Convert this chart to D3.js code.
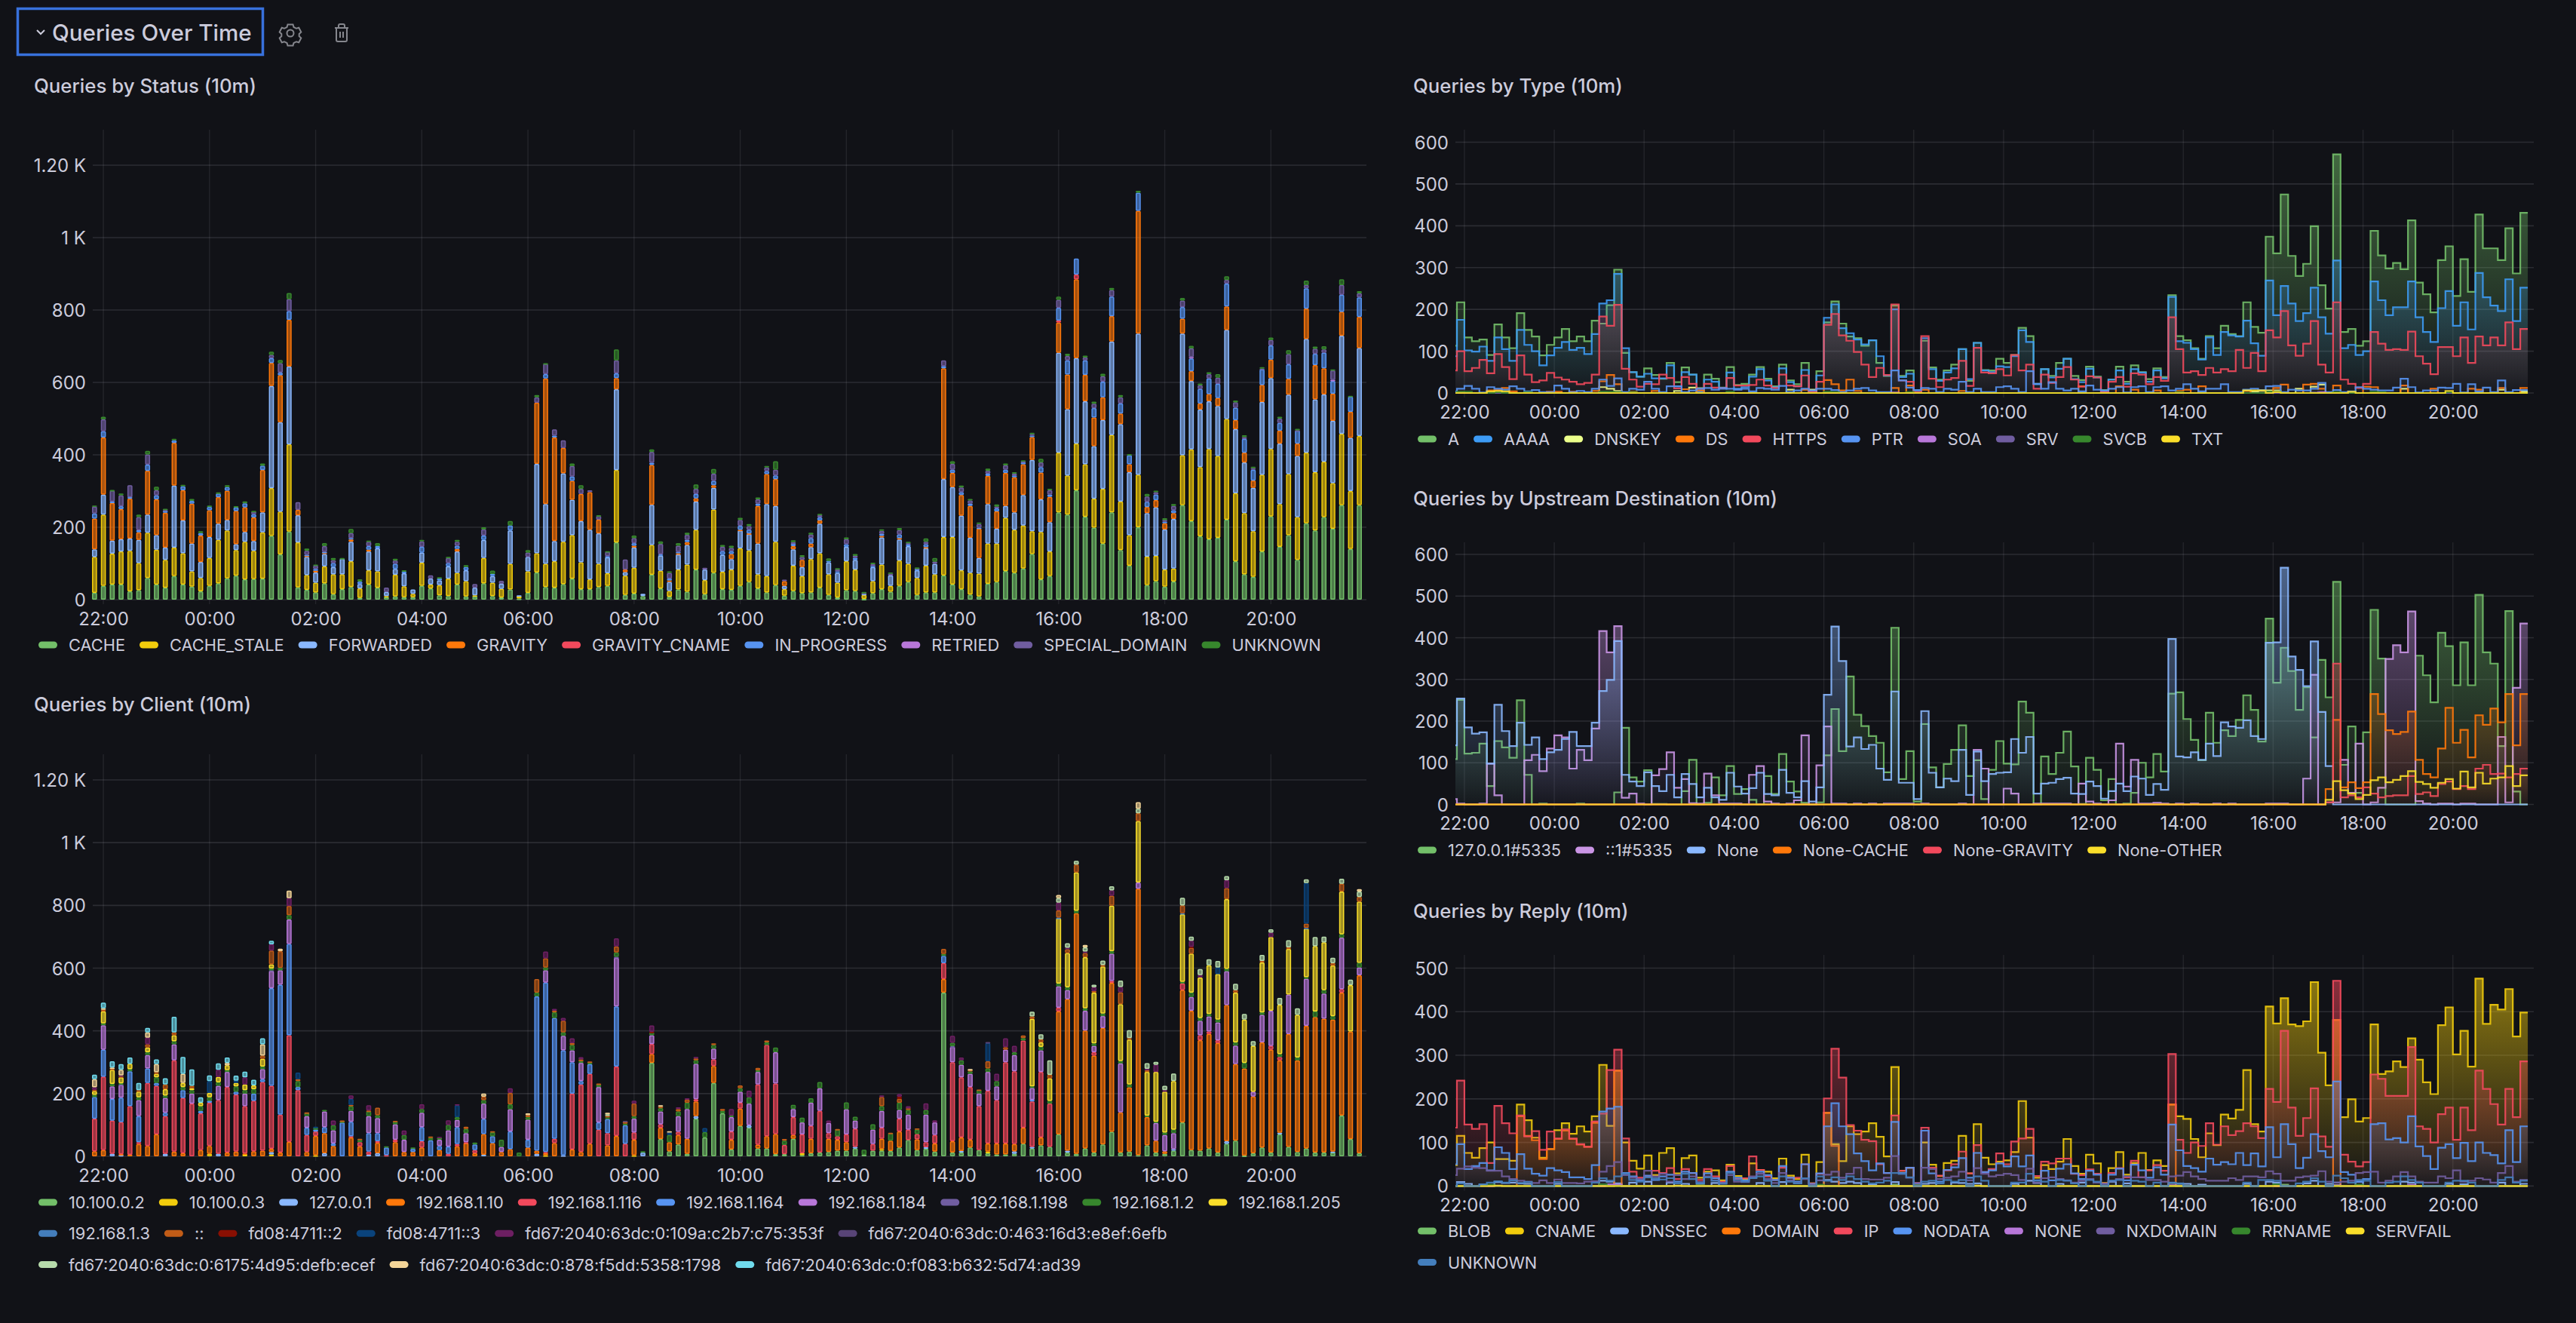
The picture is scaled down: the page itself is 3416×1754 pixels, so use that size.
<!DOCTYPE html>
<html>
<head>
<meta charset="utf-8">
<script src="https://cdn.jsdelivr.net/npm/d3@7"></script>
<style>
  html, body { margin: 0; background: #111217; }
  svg { display: block; }
  text { font-family: Inter, "Noto Sans", sans-serif; fill: #ccccdc; }
</style>
</head>
<body>
<svg id="board" width="3416" height="1754"></svg>
<script>
// each array below has one value per 10 minute slot, first slot is 21:50
function sparse(pairs) {
  var out = new Array(144).fill(0);
  pairs.forEach(function(p) { out[p[0]] = p[1]; });
  return out;
}

// Queries by Status
var s_cache = [19,38,42,42,23,26,60,42,33,65,42,36,
  23,38,45,59,66,56,57,58,176,125,188,34,
  27,20,45,15,29,35,5,42,33,7,9,7,
  7,38,31,12,10,42,9,9,45,10,6,28,
  3,19,75,35,33,43,58,29,29,35,38,158,
  13,17,10,69,31,8,28,22,83,15,74,29,
  27,38,49,31,20,40,11,24,18,20,33,13,
  6,26,24,2,18,29,22,38,49,13,20,20,
  67,42,29,14,9,44,49,79,74,86,126,56,
  65,241,235,302,229,199,155,241,137,94,200,40,
  51,36,50,261,217,175,167,171,221,106,70,63,
  133,230,146,178,110,211,191,228,196,261,140,261];
var s_stale = [99,197,85,91,112,75,125,96,77,79,86,42,
  37,77,120,132,71,104,78,128,132,118,241,124,
  41,27,47,55,41,71,26,39,45,3,60,30,
  9,64,11,28,48,32,42,3,70,37,24,71,
  6,59,53,64,73,117,120,74,27,64,35,200,
  53,71,0,82,49,16,55,75,110,39,175,48,
  56,104,87,39,45,120,18,70,47,92,95,57,
  41,80,59,11,33,68,16,70,50,47,74,50,
  106,131,52,60,63,111,106,147,119,119,63,131,
  68,165,108,129,145,80,151,214,134,84,145,79,
  70,47,36,138,198,191,249,226,278,188,169,126,
  212,186,118,169,118,195,161,153,126,197,160,191];
var s_forwarded = [21,55,36,34,34,64,50,40,34,171,91,77,
  44,58,45,29,16,27,27,55,282,247,215,75,
  50,28,34,20,43,54,12,52,64,11,16,36,
  12,28,16,13,34,59,30,21,50,18,14,92,
  3,40,247,165,56,189,98,114,137,84,44,223,
  10,56,6,111,42,25,42,54,78,29,60,47,
  29,49,45,85,199,99,9,45,25,33,82,33,
  27,40,27,3,39,75,29,58,49,21,48,29,
  160,138,151,97,43,109,41,33,48,84,197,90,
  81,276,183,236,174,145,190,258,214,174,390,120,
  134,111,137,336,189,159,132,138,246,177,140,120,
  201,196,167,219,169,314,201,186,172,271,147,243];
var s_gravity = [85,158,104,83,110,21,121,99,96,118,83,110,
  73,74,73,81,92,68,65,117,64,130,129,15,
  4,5,4,0,0,6,0,5,0,0,0,0,
  0,0,0,0,0,7,0,0,0,0,0,0,
  0,0,169,347,286,70,52,75,104,38,0,31,
  7,5,0,110,0,4,3,8,9,0,7,0,
  14,2,2,104,83,74,13,9,20,10,9,0,
  0,0,0,0,0,4,0,4,0,0,3,0,
  306,39,57,88,81,78,48,91,97,85,63,74,
  70,83,96,218,73,79,63,70,29,22,339,17,
  20,17,16,41,27,17,20,22,65,25,27,20,
  47,51,36,44,34,84,95,72,75,66,72,86];
var s_gcname = sparse([[109,6],[111,13]]);
var s_inprogress = [14,17,4,8,4,6,17,11,5,7,11,8,
  7,9,10,10,10,11,9,12,13,7,24,0,
  2,5,2,11,0,4,7,10,6,0,14,4,
  0,16,0,5,9,9,9,0,12,6,0,14,
  0,0,0,12,5,0,12,0,0,0,3,13,
  0,7,0,6,3,5,4,6,12,0,12,10,
  8,11,10,6,8,10,0,6,0,15,8,4,
  4,7,5,0,3,6,0,10,4,3,8,0,
  6,9,8,6,3,6,8,9,5,5,4,15,
  6,35,39,44,40,26,43,54,28,25,50,14,
  15,4,8,32,35,40,43,39,63,34,38,30,
  43,39,21,40,36,56,31,43,35,47,42,54];
var s_retried = sparse([[124,4],[140,3]]);
var s_special = [19,33,30,30,33,36,28,14,3,0,0,0,
  0,0,0,0,0,0,7,0,9,26,33,21,
  11,9,16,8,0,14,0,12,0,12,9,0,
  0,15,9,0,14,11,0,10,17,0,8,0,
  0,12,15,28,17,21,29,14,5,10,12,36,
  28,14,0,30,29,16,17,14,14,5,20,12,
  9,16,10,12,10,16,4,5,8,10,6,0,
  5,14,6,3,5,8,5,12,4,3,7,6,
  16,16,13,9,10,8,5,12,5,3,4,13,
  12,22,12,0,8,12,15,18,17,0,0,15,
  7,5,12,18,24,10,12,17,10,15,5,4,
  2,15,12,28,1,9,14,9,26,27,0,11];
var s_unknown = [3,7,2,5,0,7,10,10,3,4,4,5,
  5,4,3,5,3,5,2,6,9,9,17,0,
  6,3,8,6,2,11,6,3,8,0,5,4,
  0,4,0,4,3,5,5,0,6,9,0,12,
  0,7,6,2,0,0,7,10,0,2,2,30,
  0,7,0,7,7,4,7,6,12,0,13,5,
  6,6,6,5,4,23,0,5,5,5,4,7,
  4,5,5,2,4,4,3,6,4,2,9,10,
  0,7,5,4,4,6,6,5,4,3,4,10,
  4,9,6,0,5,6,7,6,6,3,5,7,
  4,5,5,7,7,5,5,10,10,5,5,4,
  4,7,5,11,4,12,6,9,3,16,2,6];
var statusNames = ["CACHE","CACHE_STALE","FORWARDED","GRAVITY","GRAVITY_CNAME","IN_PROGRESS","RETRIED","SPECIAL_DOMAIN","UNKNOWN"];
var statusColors = ["#73BF69","#F2CC0C","#8AB8FF","#FF780A","#F2495C","#5794F2","#B877D9","#705DA0","#37872D"];
var statusValues = [s_cache,s_stale,s_forwarded,s_gravity,s_gcname,s_inprogress,s_retried,s_special,s_unknown];

// Queries by Client
var c_a = sparse([[63,298],[64,55],[65,16],[66,38],[67,8],[68,120],[69,60],[70,234],[71,137],
  [72,22],[73,97],[74,91],[75,25],[76,25],[77,7],[78,7],[79,56],[80,4],[81,10],[82,12],[83,14],
  [84,18],[85,18],[86,25],[87,5],[88,18],[89,18],[90,17],[91,28],[92,52],[93,20],[94,24],[95,15],
  [96,522],[97,12],[98,12],[99,28],[100,20],[101,10],[102,6],[103,6],[104,8],[105,40],[106,25],[107,35],
  [108,30],[109,70],[110,12],[111,8],[112,25],[113,12],[114,38],[115,78],[116,12],[117,15],[118,4],[119,35],
  [120,12],[121,8],[122,18],[123,108],[124,20],[125,18],[126,25],[127,12],[128,40],[129,50],[130,2],[131,10],
  [132,28],[133,12],[134,70],[135,30],[136,14],[137,25],[138,12],[139,12],[140,12],[141,130],[142,55],[143,10]]);
var c_b = sparse([[13,8],[17,5],[20,6],[25,3],[51,3],[61,3],[80,6],[89,5],[101,5]]);
var c_loop = sparse([[2,8],[3,4],[8,8],[14,8],[20,8],[26,10],[31,5],[32,10],[44,5],[50,8],[53,3],[62,12],[68,8],[74,8],[86,5],[94,5],[98,5],[104,8],[106,5],[110,6],[122,5],[128,8],[134,5],[140,3]]);
var c_10 = [16,20,0,3,5,39,33,70,0,15,10,0,
  20,25,0,12,15,4,16,18,10,12,46,0,
  14,62,64,33,0,60,32,0,33,0,45,14,
  14,28,0,20,0,32,42,10,66,42,14,23,
  0,28,10,7,42,0,22,14,40,0,35,65,
  0,50,0,28,36,29,30,48,47,0,54,0,
  31,55,0,12,39,64,0,12,0,46,0,42,
  35,27,0,0,0,33,33,51,0,34,0,26,
  43,36,43,25,0,26,35,35,23,51,0,25,
  0,392,483,767,376,309,371,475,128,205,849,90,
  38,8,0,422,444,352,365,349,434,244,278,181,
  335,328,231,360,292,391,432,427,421,392,343,567];
var c_116 = [104,234,106,102,155,6,201,155,120,291,176,168,
  117,138,171,209,182,151,161,219,201,121,340,211,
  54,14,0,0,0,4,13,10,5,4,8,0,
  0,20,0,0,8,7,3,10,0,0,0,0,
  0,0,0,4,14,0,178,215,223,85,39,221,
  40,23,0,32,11,0,10,0,7,0,21,0,
  26,19,0,192,291,161,29,57,60,41,133,18,
  11,25,58,0,21,35,0,41,33,17,16,27,
  51,252,192,168,140,168,138,259,232,278,145,209,
  138,12,0,0,0,11,0,6,0,0,0,0,
  0,0,0,21,0,16,8,9,0,0,0,0,
  0,12,11,0,0,0,0,0,0,11,0,0];
var c_164 = [69,86,69,78,111,83,46,9,11,0,25,0,
  8,6,0,0,9,0,23,9,311,414,291,10,
  23,6,19,8,108,46,0,59,26,24,0,0,
  10,45,51,13,23,54,0,18,48,22,0,56,
  0,25,492,540,385,335,100,11,31,23,45,192,
  59,0,0,0,0,0,0,0,0,0,0,0,
  0,0,0,0,0,0,0,0,0,0,0,0,
  0,0,0,0,0,0,0,0,0,0,0,0,
  23,0,0,0,0,0,0,0,0,0,5,0,
  0,0,0,0,0,0,0,0,0,0,0,0,
  0,0,0,0,0,0,0,0,0,0,0,0,
  0,0,0,0,0,0,0,0,0,0,0,0];
var c_184 = [0,78,40,40,0,51,43,0,47,51,0,32,
  0,0,46,48,0,40,0,32,55,46,78,0,
  37,0,50,42,0,35,0,54,48,0,49,39,
  0,46,0,20,52,23,29,0,49,0,16,71,
  0,64,0,39,0,46,38,58,0,113,0,155,
  0,44,0,28,41,0,50,95,113,0,34,0,
  46,35,69,40,0,100,0,26,38,74,72,32,
  0,80,26,0,46,54,0,28,48,0,88,40,
  0,49,40,42,40,60,44,40,52,0,38,69,
  0,68,29,0,63,20,38,87,156,0,20,0,
  56,52,51,0,44,46,48,57,108,59,0,15,
  88,112,0,126,0,150,0,80,0,164,0,25];
var c_198 = sparse([[3,2],[20,2],[59,3],[97,2]]);
var c_2 = [7,6,8,4,7,9,9,18,8,10,10,11,
  15,11,11,6,17,11,14,8,6,8,14,19,
  10,6,5,16,3,15,8,15,9,4,8,15,
  4,12,8,7,17,9,13,6,11,13,23,16,
  12,8,12,9,18,11,17,5,4,8,5,14,
  5,8,4,9,11,23,15,20,11,17,12,8,
  5,11,20,5,8,15,14,13,15,14,20,0,
  21,22,12,16,17,15,24,23,15,14,15,0,
  6,11,14,8,11,11,17,0,9,8,5,11,
  9,9,9,8,8,8,8,8,8,9,0,5,
  4,8,11,5,14,9,8,9,8,10,18,0,
  8,0,9,0,9,5,18,11,11,11,0,15];
var c_205 = [12,38,44,19,17,18,15,11,20,19,13,6,
  11,14,17,15,11,18,12,25,13,0,0,0,
  0,0,0,0,0,0,0,0,0,0,0,0,
  0,0,0,0,0,0,0,0,0,0,0,0,
  0,0,0,0,0,0,0,0,0,0,0,0,
  0,0,0,0,0,0,0,0,0,0,0,0,
  0,0,0,0,0,0,0,0,0,0,0,0,
  0,0,0,0,0,0,0,0,0,0,0,0,
  0,0,0,0,0,0,0,0,0,0,215,14,
  71,208,109,122,163,162,150,145,181,143,196,139,
  159,130,155,216,124,129,155,145,222,159,138,146,
  159,235,157,145,136,155,208,152,161,136,148,195];
var c_3 = sparse([[109,2],[123,3],[137,2]]);
var c_any = [4,5,4,3,0,5,10,5,15,9,0,8,
  0,0,0,0,0,0,0,10,44,53,29,6,
  2,0,0,0,3,4,3,3,24,0,3,0,
  0,0,4,0,0,0,7,0,11,3,0,36,
  0,6,43,29,5,37,6,6,4,3,5,19,
  7,40,0,0,4,0,8,10,6,0,5,6,
  0,9,0,8,6,0,5,0,0,0,0,0,
  2,0,0,0,0,29,1,12,5,4,0,0,
  16,0,0,4,2,23,0,8,0,8,8,10,
  12,23,12,25,13,5,5,32,38,5,25,5,
  0,0,0,25,19,0,0,0,35,8,0,0,
  5,0,0,5,0,14,0,0,8,25,0,15];
var c_f2 = sparse([[91,7],[63,2],[124,3]]);
var c_f3 = sparse([[13,38],[16,7],[23,21],[25,3],[29,19],[41,38],[65,8],[69,13],[101,59],[127,21],[137,129]]);
var c_109a = sparse([[0,8],[3,3],[6,21],[14,23],[17,23],[20,20],[22,25],[27,15],[29,11],[31,17],[35,14],[37,15],[39,2],[40,15],[41,3],[47,15],[51,22],[52,6],[53,9],[54,15],[55,7],[59,26],[61,9],[63,20],[66,5],[67,4],[68,5],[72,21],[74,21],[83,8],[89,5],[91,8],[92,7],[94,21],[95,7],[97,22],[98,9],[102,23],[103,28],[104,20],[109,25],[110,5],[112,5],[113,12],[115,17],[116,17],[119,5],[120,23],[121,5],[124,19],[125,8],[128,25],[133,14]]);
var c_463 = sparse([[60,2],[101,2]]);
var c_6175 = sparse([[58,5],[106,15],[107,16],[108,46],[109,14],[110,14],[111,12],[112,13],[113,8],[114,14],[115,13],[116,20],[117,25],[118,14],[119,18],[120,9],[121,14],[122,24],[123,24],[124,13],[125,19],[126,19],[127,21],[128,13],[129,20],[130,18],[131,15],[132,19],[133,11],[134,22],[135,23],[136,21],[137,12],[138,29],[139,18],[140,17],[141,16],[142,17],[143,17]]);
var c_878 = sparse([[0,26],[1,5],[2,4],[3,18],[6,17],[7,26],[10,29],[15,8],[19,36],[21,8],[22,24],[44,10],[49,6],[58,5],[64,5],[65,4],[99,3],[109,10],[112,8],[118,21],[143,8]]);
var c_f083 = sparse([[0,14],[1,18],[2,20],[3,18],[4,20],[5,23],[6,14],[7,15],[8,20],[9,50],[10,54],[11,52],[12,17],[13,18],[14,20],[15,17],[16,16],[17,18],[18,18],[19,19],[20,11]]);
var clientNames = ["10.100.0.2","10.100.0.3","127.0.0.1","192.168.1.10","192.168.1.116","192.168.1.164","192.168.1.184","192.168.1.198","192.168.1.2","192.168.1.205","192.168.1.3","::","fd08:4711::2","fd08:4711::3","fd67:2040:63dc:0:109a:c2b7:c75:353f","fd67:2040:63dc:0:463:16d3:e8ef:6efb","fd67:2040:63dc:0:6175:4d95:defb:ecef","fd67:2040:63dc:0:878:f5dd:5358:1798","fd67:2040:63dc:0:f083:b632:5d74:ad39"];
var clientColors = ["#73BF69","#F2CC0C","#8AB8FF","#FF780A","#F2495C","#5794F2","#B877D9","#705DA0","#37872D","#FADE2A","#447EBC","#C15C17","#890F02","#0A437C","#6D1F62","#584477","#B7DBAB","#F4D598","#70DBED"];
var clientValues = [c_a,c_b,c_loop,c_10,c_116,c_164,c_184,c_198,c_2,c_205,c_3,c_any,c_f2,c_f3,c_109a,c_463,c_6175,c_878,c_f083];

// Queries by Type
var t_a = [113,217,133,124,128,91,164,133,107,191,151,135,
  90,115,133,153,124,135,124,173,166,210,295,96,
  50,39,59,43,34,72,26,61,44,12,44,34,
  13,62,19,22,44,62,34,16,68,30,21,72,
  7,52,169,219,166,135,131,113,126,72,41,209,
  41,54,1,125,61,32,54,68,105,29,120,55,
  54,82,72,91,156,136,22,57,41,72,82,41,
  31,63,39,7,32,63,27,66,50,33,59,38,
  234,136,126,107,82,136,107,161,141,136,217,158,
  144,374,334,475,328,280,309,399,258,202,571,146,
  153,113,124,388,329,298,311,296,413,264,236,193,
  318,351,232,320,242,427,346,346,318,394,286,431];
var t_aaaa = [88,175,102,99,111,77,133,105,77,151,115,100,
  66,90,108,122,103,108,93,141,214,222,285,107,
  50,39,46,35,35,66,16,50,44,4,32,27,
  10,49,10,14,39,57,30,14,59,26,16,55,
  6,42,180,212,155,143,128,116,126,88,42,200,
  38,46,6,131,57,29,49,59,105,33,120,54,
  50,64,62,88,150,122,21,57,37,58,82,33,
  26,58,37,4,32,54,22,57,49,27,54,35,
  230,124,120,105,80,133,91,146,138,135,173,119,
  89,269,186,256,214,172,191,252,181,142,317,107,
  115,91,100,267,222,186,205,205,267,181,146,122,
  203,244,161,217,152,287,229,209,196,272,172,252];
var t_dnskey = sparse([[6,3],[20,14],[21,10],[22,5],[30,5],[32,13],[45,8],[48,8],[107,4],[108,5],[109,6],[110,6],[113,10],[115,15],[116,20],[127,10],[140,8],[143,4]]);
var t_ds = sparse([[1,2],[5,6],[6,7],[7,12],[8,4],[13,3],[14,3],[16,3],[19,5],[20,28],[21,43],[22,21],[24,3],[27,5],[31,9],[33,6],[47,8],[50,31],[51,21],[52,6],[53,32],[54,5],[59,12],[61,18],[63,8],[68,5],[84,16],[89,16],[91,8],[94,6],[97,5],[98,8],[100,16],[106,5],[110,12],[111,20],[114,20],[115,22],[116,10],[118,18],[122,15],[123,14],[127,18],[131,10],[136,10],[137,8],[140,12],[143,12]]);
var t_https = [54,100,52,60,79,47,93,62,33,90,44,26,
  30,48,37,32,27,21,24,44,183,161,211,58,
  32,15,22,21,44,36,11,38,22,10,22,13,
  12,36,18,18,19,32,18,12,44,18,16,42,
  4,27,163,189,138,125,98,68,38,60,43,212,
  30,27,2,136,34,14,32,36,77,17,108,49,
  47,57,42,91,54,68,10,44,24,38,62,32,
  15,40,37,2,27,38,15,47,44,21,38,29,
  181,105,49,52,43,60,49,57,52,103,60,96,
  52,150,133,196,114,89,118,172,68,49,217,32,
  22,12,22,146,118,103,105,103,147,88,70,45,
  110,110,88,133,72,135,114,133,114,169,105,153];
var t_ptr = [4,10,17,10,1,14,10,8,16,10,4,7,
  2,2,18,10,2,5,2,10,32,17,35,2,
  10,8,27,10,2,16,16,2,6,10,12,8,
  12,10,8,10,4,12,10,8,17,2,6,10,
  6,10,10,7,2,6,10,12,6,2,2,54,
  30,13,7,12,10,2,10,8,27,2,10,2,
  2,14,16,10,2,52,22,10,26,10,6,10,
  4,18,8,6,10,14,1,14,16,2,14,16,
  6,10,21,10,4,10,10,21,2,2,8,10,
  7,16,17,2,8,6,6,10,24,2,7,2,
  4,14,10,8,6,6,13,34,14,1,6,6,
  13,12,22,1,21,4,13,2,30,2,7,7];
var t_soa = sparse([[20,1],[59,1],[116,2]]);
var t_srv = sparse([[20,1],[51,1],[115,1]]);
var t_svcb = sparse([[1,3],[2,3],[6,2],[10,2],[20,3],[21,3],[22,2],[24,2],[37,3],[50,3],[51,2],[61,2],[97,2],[109,3],[110,3],[118,2],[123,3],[124,2],[133,2]]);
var t_txt = sparse([[5,4],[6,5],[7,4],[106,6],[107,6],[108,6],[110,2],[120,3],[133,5]]);
var typeNames = ["A","AAAA","DNSKEY","DS","HTTPS","PTR","SOA","SRV","SVCB","TXT"];
var typeColors = ["#73BF69","#3D9BF5","#ECFF8B","#FF780A","#F2495C","#5794F2","#B877D9","#705DA0","#37872D","#FADE2A"];
var typeValues = [t_a,t_aaaa,t_dnskey,t_ds,t_https,t_ptr,t_soa,t_srv,t_svcb,t_txt];

// Queries by Upstream Destination
var u_local = [109,251,122,124,146,44,152,137,112,250,71,0,
  2,0,0,0,0,2,0,0,0,0,29,184,
  65,55,82,1,1,0,0,32,107,0,4,65,
  22,92,25,37,11,0,68,25,121,55,31,4,
  0,5,118,229,128,307,215,188,164,148,77,424,
  61,128,7,193,89,41,97,131,190,68,106,13,
  83,152,98,96,247,220,0,115,73,124,175,91,
  1,112,83,10,61,0,2,28,100,65,121,79,
  266,269,205,155,106,220,148,178,164,203,262,227,
  151,446,292,376,320,227,281,161,347,257,534,95,
  187,28,173,467,350,0,0,0,0,357,310,245,
  412,380,286,389,286,503,365,338,140,464,31,0];
var u_v6 = [13,2,0,0,2,98,22,0,0,0,106,119,
  80,134,166,161,86,131,106,182,416,365,428,16,
  26,2,0,70,85,125,40,61,3,2,74,22,
  2,2,2,0,71,92,7,2,0,2,10,166,
  0,94,187,2,2,0,2,0,2,0,2,2,
  2,2,0,2,0,0,0,0,2,0,131,86,
  0,0,38,26,0,0,2,2,2,2,2,0,
  50,7,2,0,10,146,43,107,2,2,4,2,
  0,2,0,2,0,0,2,0,2,0,0,0,
  0,2,2,2,0,0,62,311,0,5,5,107,
  28,146,0,5,40,349,382,365,463,8,2,0,
  2,2,0,2,2,0,0,0,162,5,280,434];
var u_none = sparse([[0,142],[1,254],[2,185],[3,170],[4,173],[5,98],[6,239],[7,176],[8,140],[9,196],[10,143],[11,161],
  [12,109],[13,125],[14,131],[15,157],[16,174],[17,140],[18,140],[19,196],[20,272],[21,299],[22,392],[23,71],
  [24,55],[25,44],[26,77],[27,44],[28,32],[29,71],[30,17],[31,73],[32,49],[33,17],[34,40],[35,17],
  [36,11],[37,76],[38,43],[39,26],[40,39],[41,76],[42,25],[43,22],[44,83],[45,28],[46,17],[47,56],
  [48,7],[49,41],[50,263],[51,427],[52,344],[53,139],[54,161],[55,133],[56,143],[57,86],[58,59],[59,271],
  [60,52],[61,52],[62,13],[63,224],[64,76],[65,41],[66,62],[67,56],[68,131],[69,23],[70,127],[71,56],
  [72,73],[73,76],[74,77],[75,157],[76,124],[77,162],[78,26],[79,50],[80,52],[81,61],[82,64],[83,26],
  [84,25],[85,55],[86,44],[87,14],[88,32],[89,50],[90,32],[91,67],[92,62],[93,23],[94,49],[95,35],
  [96,397],[97,115],[98,113],[99,125],[100,107],[101,146],[102,116],[103,197],[104,187],[105,184],[106,202],[107,164],
  [108,157],[109,388],[110,389],[111,568],[112,355],[113,323],[114,284],[115,391],[116,222],[117,92]]);
var u_cache = sparse([[117,37],[118,203],[119,41],[120,53],[121,39],[122,53],[123,265],[124,217],[125,178],[126,169],[127,174],[128,223],[129,107],[130,73],[131,65],[132,134],[133,232],[134,148],[135,179],[136,113],[137,214],[138,191],[139,230],[140,197],[141,265],[142,142],[143,265]]);
var u_gravity = sparse([[117,5],[118,338],[119,17],[120,22],[121,17],[122,41],[123,26],[124,17],[125,20],[126,22],[127,22],[128,68],[129,25],[130,29],[131,20],[132,49],[133,55],[134,37],[135,44],[136,37],[137,86],[138,95],[139,73],[140,74],[141,65],[142,73],[143,86]]);
var u_other = sparse([[117,11],[118,56],[119,34],[120,26],[121,13],[122,23],[123,58],[124,65],[125,53],[126,59],[127,68],[128,80],[129,54],[130,49],[131,40],[132,52],[133,61],[134,38],[135,79],[136,41],[137,76],[138,50],[139,62],[140,65],[141,92],[142,44],[143,70]]);
var upstreamNames = ["127.0.0.1#5335","::1#5335","None","None-CACHE","None-GRAVITY","None-OTHER"];
var upstreamColors = ["#73BF69","#CA95E5","#8AB8FF","#FF780A","#F2495C","#FADE2A"];
var upstreamValues = [u_local,u_v6,u_none,u_cache,u_gravity,u_other];

// Queries by Reply
var r_blob = sparse([[5,2],[22,2],[33,2],[59,3],[111,3],[118,2]]);
var r_cname = [48,115,76,65,87,100,62,62,58,187,151,111,
  65,85,128,144,120,137,125,160,278,138,265,100,
  58,40,70,25,76,87,29,64,70,19,33,36,
  13,49,23,16,52,37,33,18,63,24,16,72,
  6,55,168,96,57,137,119,125,144,113,68,273,
  35,42,5,100,49,23,53,58,115,29,142,65,
  50,56,59,78,195,111,19,48,39,56,108,46,
  28,72,52,7,41,78,26,53,76,37,59,46,
  187,160,154,108,66,121,94,164,155,175,266,142,
  125,412,373,431,371,367,378,468,306,231,381,158,
  199,148,156,371,257,263,286,273,339,290,238,211,
  369,410,302,356,274,476,372,416,405,452,343,398];
var r_dnssec = sparse([[1,9],[2,5],[4,3],[6,9],[7,7],[8,8],[9,6],[10,5],[14,5],[20,12],[21,10],[22,6],[24,8],[26,10],[29,8],[31,5],[35,7],[41,7],[44,9],[50,14],[51,10],[52,7],[53,10],[54,7],[56,3],[59,9],[63,5],[64,7],[67,8],[68,7],[69,5],[70,6],[75,5],[77,12],[78,7],[81,5],[84,8],[88,10],[90,6],[96,7],[97,5],[98,5],[100,3],[106,5],[109,10],[110,8],[114,6],[115,12],[117,5],[118,8],[121,10],[127,10],[128,8],[133,5],[135,4],[140,8],[143,5]]);
var r_domain = sparse([[9,160],[10,115],[11,105],[12,62],[13,85],[14,108],[15,127],[16,108],[17,95],[18,90],[19,145],[22,265],[50,168],[51,92],[96,187],[118,381]]);
var r_ip = [134,242,141,131,142,53,184,144,121,162,114,126,
  83,125,109,130,109,96,90,148,166,266,313,109,
  33,19,22,35,30,41,16,39,30,14,39,22,
  10,46,16,18,68,37,22,14,42,19,19,50,
  6,28,201,315,249,140,127,106,103,50,30,162,
  35,42,7,134,42,24,36,50,79,29,94,32,
  39,75,50,102,109,131,23,56,52,63,63,28,
  25,38,28,6,30,41,20,58,20,36,48,35,
  303,106,76,100,92,144,95,137,117,126,144,137,
  110,223,193,356,180,115,156,224,114,90,471,72,
  56,45,55,256,246,207,207,207,319,137,131,100,
  165,180,106,180,128,265,223,188,141,223,158,286];
var r_nodata = [50,96,39,46,53,36,89,76,39,73,40,28,
  24,41,36,32,20,20,16,48,171,178,182,30,
  22,13,24,14,22,26,10,33,30,6,29,18,
  7,33,19,13,19,33,25,14,46,19,10,50,
  5,29,137,190,137,119,75,57,36,52,30,147,
  30,42,6,127,29,10,37,43,64,19,76,32,
  36,52,45,68,45,70,13,35,13,40,50,29,
  16,35,26,5,26,40,13,49,36,19,43,26,
  141,82,46,41,33,63,49,55,50,76,48,75,
  45,135,66,142,96,41,65,119,80,66,240,32,
  26,10,16,142,144,107,110,100,160,91,69,39,
  88,96,64,99,57,100,76,71,52,128,55,137];
var r_none = sparse([[21,4],[22,3],[62,3],[96,2],[118,2],[128,3]]);
var r_nx = [25,40,45,42,41,35,35,22,16,12,10,7,
  13,7,15,7,7,6,10,11,33,46,55,25,
  19,16,35,22,28,10,25,16,22,9,22,13,
  7,25,10,9,22,28,16,7,30,13,7,16,
  3,13,26,33,19,28,42,16,15,15,19,69,
  28,19,5,42,39,16,19,22,33,13,41,28,
  22,25,28,25,14,40,8,18,20,16,13,8,
  12,16,8,5,12,16,22,20,20,14,14,10,
  22,24,32,22,16,12,12,12,18,14,22,22,
  20,34,28,12,12,20,22,24,34,10,8,10,
  12,30,32,33,8,12,22,32,22,10,8,8,
  22,18,36,10,12,18,15,8,30,46,10,14];
var r_rrname = sparse([[5,3],[20,4],[49,3],[62,2],[110,4],[121,3]]);
var r_servfail = sparse([[6,1],[30,1],[70,1]]);
var r_unknown = sparse([[1,6],[4,4],[5,8],[6,11],[7,8],[8,13],[9,7],[10,9],[14,9],[19,8],[20,18],[21,12],[22,22],[23,28],[24,14],[25,10],[26,20],[27,18],[28,15],[29,18],[30,6],[31,28],[32,16],[33,7],[34,20],[35,12],[36,5],[37,30],[38,14],[39,10],[40,18],[41,22],[42,12],[44,22],[45,10],[46,6],[47,18],[49,22],[50,12],[51,20],[52,14],[53,22],[54,16],[55,10],[56,6],[57,8],[58,12],[59,30],[60,28],[61,20],[63,10],[64,12],[65,6],[66,14],[67,10],[68,14],[70,22],[71,12],[75,8],[76,8],[77,28],[78,12],[79,10],[81,14],[82,12],[83,6],[85,14],[86,10],[88,12],[89,14],[91,12],[92,10],[94,8],[96,8],[97,6],[106,8],[108,14],[109,14],[110,12],[113,6],[114,10],[115,18],[116,10],[118,24],[119,18],[120,8],[121,14],[122,12],[125,8],[126,10],[127,22],[128,14],[129,8],[133,8],[134,12],[135,12],[136,8],[140,14],[141,20],[142,8],[143,12]]);
var replyNames = ["BLOB","CNAME","DNSSEC","DOMAIN","IP","NODATA","NONE","NXDOMAIN","RRNAME","SERVFAIL","UNKNOWN"];
var replyColors = ["#73BF69","#F2CC0C","#8AB8FF","#FF780A","#F2495C","#5794F2","#B877D9","#705DA0","#37872D","#FADE2A","#447EBC"];
var replyValues = [r_blob,r_cname,r_dnssec,r_domain,r_ip,r_nodata,r_none,r_nx,r_rrname,r_servfail,r_unknown];

var domainStart = new Date(2024, 0, 1, 21, 48);
var domainEnd = new Date(2024, 0, 2, 21, 48);
var firstSlot = new Date(2024, 0, 1, 21, 50);
var times = d3.range(144).map(function(i) { return d3.timeMinute.offset(firstSlot, i * 10); });
var fmtTime = d3.timeFormat("%H:%M");

var svg = d3.select("#board");
var defs = svg.append("defs");
var TITLE_SIZE = 25.8, TICK_SIZE = 24, LEG_SIZE = 21.8;
var gradId = 0;

function fmtCount(v) {
  if (v >= 1000) return v % 1000 == 0 ? (v / 1000) + " K" : (v / 1000).toFixed(2) + " K";
  return v;
}

// title, grid, axes - same for every panel
function makeFrame(p) {
  var x = d3.scaleTime().domain([domainStart, domainEnd]).range([p.left, p.right]);
  var y = d3.scaleLinear().domain([0, p.max]).range([p.base, p.topTick]);
  var g = svg.append("g");

  g.append("text").text(p.title)
    .attr("x", p.titleX).attr("y", p.titleY)
    .attr("dominant-baseline", "central")
    .attr("font-size", TITLE_SIZE).attr("font-weight", 500);

  var hours = d3.timeHour.every(2).range(domainStart, domainEnd);
  g.append("g").selectAll("line").data(hours).enter().append("line")
    .attr("x1", function(d) { return x(d); }).attr("x2", function(d) { return x(d); })
    .attr("y1", p.plotTop).attr("y2", p.base + 6)
    .attr("stroke", "#ccccdc").attr("stroke-opacity", 0.1).attr("stroke-width", 1.4);
  g.append("g").selectAll("line").data(d3.range(0, p.max + 1, p.step)).enter().append("line")
    .attr("x1", p.left).attr("x2", p.right)
    .attr("y1", function(d) { return y(d); }).attr("y2", function(d) { return y(d); })
    .attr("stroke", "#ccccdc").attr("stroke-opacity", 0.14).attr("stroke-width", 1.6);

  var xAxis = d3.axisBottom(x).tickValues(hours).tickFormat(fmtTime).tickSize(0);
  var xg = g.append("g").attr("transform", "translate(0," + p.base + ")").call(xAxis);
  xg.select(".domain").remove();
  xg.selectAll("text").attr("y", 25).attr("dy", 0)
    .attr("dominant-baseline", "central")
    .attr("font-size", TICK_SIZE).attr("font-family", "Inter").attr("fill", "#ccccdc");

  var yAxis = d3.axisLeft(y).tickValues(d3.range(0, p.max + 1, p.step)).tickFormat(fmtCount).tickSize(0).tickPadding(9);
  var yg = g.append("g").attr("transform", "translate(" + p.left + ",0)").call(yAxis);
  yg.select(".domain").remove();
  yg.selectAll("text").attr("dy", 0).attr("dominant-baseline", "central")
    .attr("font-size", TICK_SIZE).attr("font-family", "Inter").attr("fill", "#ccccdc");

  makeLegend(p);
  return { x: x, y: y };
}

function makeLegend(p) {
  var g = svg.append("g");
  var cx = p.legX, cy = p.legY;
  p.names.forEach(function(name, i) {
    var t = g.append("text").text(name)
      .attr("dominant-baseline", "central").attr("font-size", LEG_SIZE);
    var w = t.node().getComputedTextLength();
    if (cx + 40 + w > p.legMax) { cx = p.legX; cy += p.legGap; }
    g.append("rect").attr("x", cx).attr("y", cy - 4.5)
      .attr("width", 25).attr("height", 9).attr("rx", 4.5)
      .attr("fill", p.colors[i]);
    t.attr("x", cx + 40).attr("y", cy);
    cx += 40 + w + 19;
  });
}

function drawBars(p) {
  var f = makeFrame(p);
  var rows = times.map(function(t, i) {
    var r = { t: t };
    p.names.forEach(function(n, k) { r[n] = p.values[k][i]; });
    return r;
  });
  var series = d3.stack().keys(p.names)(rows);
  var layer = svg.append("g").selectAll("g").data(series).enter().append("g")
    .attr("fill", function(d, i) { return p.colors[i]; })
    .attr("stroke", function(d, i) { return p.colors[i]; });
  layer.selectAll("rect").data(function(d) { return d.filter(function(b) { return b[1] > b[0]; }); })
    .enter().append("rect")
    .attr("x", function(d) { return f.x(d.data.t) - 2.6; })
    .attr("width", 5.2)
    .attr("y", function(d) { return f.y(d[1]) + 0.7; })
    .attr("height", function(d) { return Math.max(0.4, f.y(d[0]) - f.y(d[1]) - 1.4); })
    .attr("fill-opacity", 0.62)
    .attr("stroke-width", 1.5)
    .attr("rx", 0.8);
}

function drawSteps(p) {
  var f = makeFrame(p);
  var line = d3.line().curve(d3.curveStepBefore)
    .x(function(d) { return f.x(d.t); }).y(function(d) { return f.y(d.v); });
  var area = d3.area().curve(d3.curveStepBefore)
    .x(function(d) { return f.x(d.t); }).y0(f.y(0)).y1(function(d) { return f.y(d.v); });
  var g = svg.append("g");
  p.values.forEach(function(vals, k) {
    // stub bin before the first slot, starts at the panel edge
    var pts = [{ t: domainStart, v: vals[0] }].concat(times.map(function(t, i) { return { t: t, v: vals[i] }; }));
    var id = "fade" + (gradId++);
    var grad = defs.append("linearGradient").attr("id", id)
      .attr("gradientUnits", "userSpaceOnUse")
      .attr("x1", 0).attr("x2", 0).attr("y1", p.plotTop).attr("y2", p.base);
    grad.append("stop").attr("offset", 0).attr("stop-color", p.colors[k]).attr("stop-opacity", p.fade);
    grad.append("stop").attr("offset", 1).attr("stop-color", p.colors[k]).attr("stop-opacity", 0.02);
    g.append("path").datum(pts).attr("d", area).attr("fill", "url(#" + id + ")");
    g.append("path").datum(pts).attr("d", line)
      .attr("fill", "none").attr("stroke", p.colors[k])
      .attr("stroke-width", 2.2).attr("stroke-opacity", 0.9);
  });
}

// header row
var head = svg.append("g");
head.append("rect").attr("x", 23.5).attr("y", 11.5).attr("width", 325).attr("height", 61)
  .attr("fill", "none").attr("stroke", "#3871DC").attr("stroke-width", 3.5);
head.append("path").attr("d", "M49 40l5 5 5-5").attr("fill", "none")
  .attr("stroke", "#ccccdc").attr("stroke-width", 2);
head.append("text").text("Queries Over Time").attr("x", 69).attr("y", 43)
  .attr("dominant-baseline", "central").attr("font-size", 29.6).attr("font-weight", 500);
var gear = head.append("g").attr("transform", "translate(385,44)")
  .attr("fill", "none").attr("stroke", "#85868d").attr("stroke-width", 2);
gear.append("circle").attr("r", 4.5);
gear.append("path").attr("d", "M-3.5-11.5h7l1 3.5 3.5 1.8 3.3-1 3 5.7-2.6 2.4v3.2l2.6 2.4-3 5.7-3.3-1-3.5 1.8-1 3.5h-7l-1-3.5-3.5-1.8-3.3 1-3-5.7 2.6-2.4v-3.2l-2.6-2.4 3-5.7 3.3 1 3.5-1.8z");
var bin = head.append("g").attr("transform", "translate(453,44)")
  .attr("fill", "none").attr("stroke", "#85868d").attr("stroke-width", 2);
bin.append("path").attr("d", "M-9-7h18M-7-7v16a2 2 0 0 0 2 2h10a2 2 0 0 0 2-2v-16M-4-7v-3a2 2 0 0 1 2-2h4a2 2 0 0 1 2 2v3M-2-2v8M2-2v8");

drawBars({ title: "Queries by Status (10m)", titleX: 45, titleY: 113, left: 123, right: 1812,
  plotTop: 172, base: 795, topTick: 219, max: 1200, step: 200,
  names: statusNames, colors: statusColors, values: statusValues,
  legX: 51, legY: 855, legGap: 41, legMax: 1830 });

drawBars({ title: "Queries by Client (10m)", titleX: 45, titleY: 933, left: 123, right: 1812,
  plotTop: 1000, base: 1533, topTick: 1034, max: 1200, step: 200,
  names: clientNames, colors: clientColors, values: clientValues,
  legX: 51, legY: 1594, legGap: 41.3, legMax: 1830 });

drawSteps({ title: "Queries by Type (10m)", titleX: 1874, titleY: 113, left: 1930, right: 3360,
  plotTop: 172, base: 521, topTick: 188.5, max: 600, step: 100, fade: 0.55,
  names: typeNames, colors: typeColors, values: typeValues,
  legX: 1880, legY: 582, legGap: 41, legMax: 3410 });

drawSteps({ title: "Queries by Upstream Destination (10m)", titleX: 1874, titleY: 660, left: 1930, right: 3360,
  plotTop: 719, base: 1066.5, topTick: 735, max: 600, step: 100, fade: 0.55,
  names: upstreamNames, colors: upstreamColors, values: upstreamValues,
  legX: 1880, legY: 1127, legGap: 41, legMax: 3410 });

drawSteps({ title: "Queries by Reply (10m)", titleX: 1874, titleY: 1207, left: 1930, right: 3360,
  plotTop: 1266, base: 1572.4, topTick: 1283.5, max: 500, step: 100, fade: 0.6,
  names: replyNames, colors: replyColors, values: replyValues,
  legX: 1880, legY: 1632, legGap: 41.5, legMax: 3410 });
</script>
</body>
</html>
